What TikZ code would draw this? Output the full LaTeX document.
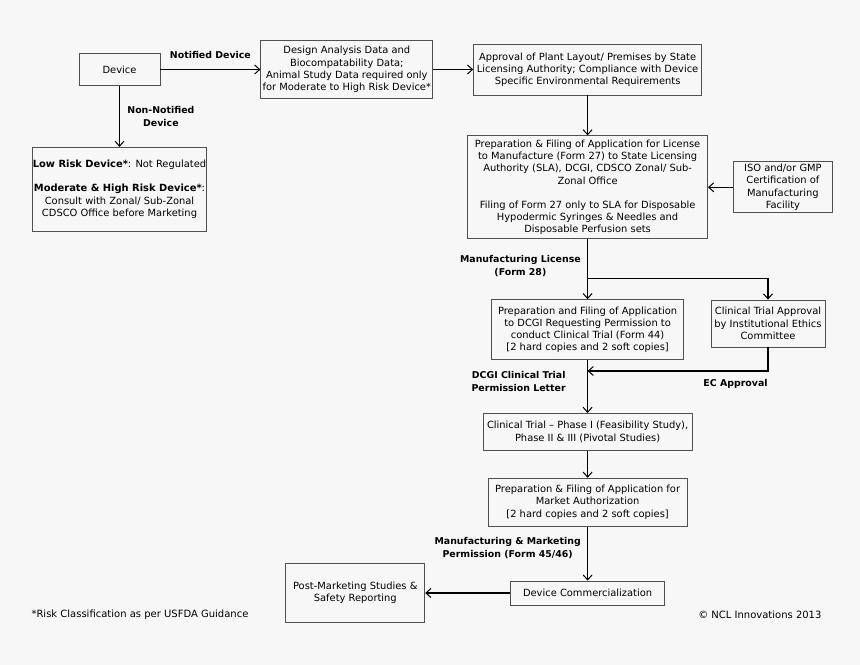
\documentclass[tikz,border=0pt]{standalone}
\usepackage{fontspec}
\setmainfont{DejaVu Sans}
\usetikzlibrary{arrows.meta,positioning,calc}
\definecolor{pagebg}{HTML}{F7F7F7}
\definecolor{boxline}{HTML}{505050}
\tikzset{
    >={Straight Barb[length=5pt,width=9pt,line width=1pt]},
    every node/.style={font=\fontsize{9.9}{12.2}\selectfont},
    stepbox/.style={draw=boxline,line width=0.8pt,align=center,inner sep=1pt},
    flow/.style={->,line width=1.1pt},
    edge label/.style={font=\bfseries\fontsize{9.4}{13}\selectfont,align=center},
    note/.style={font=\fontsize{10}{12}\selectfont}
}

\begin{document}
\begin{tikzpicture}[x=1pt,y=-1pt]
    \fill[pagebg] (0,0) rectangle (860,665);
    \useasboundingbox (0,0) rectangle (860,665);

    \node[stepbox, minimum width=81pt, minimum height=32pt] (device) at (119.5,69.5) {Device};
    \node[stepbox, minimum width=172pt, minimum height=58pt] (design) [right = 100pt of device]
        {Design Analysis Data and\\Biocompatability Data;\\Animal Study Data required only\\for Moderate to High Risk Device*};
    \node[stepbox, inner xsep=0pt, minimum width=172pt, minimum height=84pt] (lowrisk) [below = 61pt of device]
        {\textbf{Low Risk Device*}: Not Regulated\\[12pt]\textbf{Moderate \& High Risk Device*}:\\Consult with Zonal/ Sub-Zonal\\CDSCO Office before Marketing};
    \node[stepbox, minimum width=228pt, minimum height=51pt] (approval) [right = 40pt of design]
        {Approval of Plant Layout/ Premises by State\\Licensing Authority; Compliance with Device\\Specific Environmental Requirements};
    \node[stepbox, minimum width=240pt, minimum height=103pt] (prepsla) [below = 40pt of approval]
        {Preparation \& Filing of Application for License\\to Manufacture (Form 27) to State Licensing\\Authority (SLA), DCGI, CDSCO Zonal/ Sub-\\Zonal Office\\[12pt]Filing of Form 27 only to SLA for Disposable\\Hypodermic Syringes \& Needles and\\Disposable Perfusion sets};
    \node[stepbox, minimum width=99pt, minimum height=51pt] (iso) [right = 25pt of prepsla]
        {ISO and/or GMP\\Certification of\\Manufacturing\\Facility};
    \node[stepbox, minimum width=192pt, minimum height=60pt] (prepdcgi) [below = 60pt of prepsla]
        {Preparation and Filing of Application\\to DCGI Requesting Permission to\\conduct Clinical Trial (Form 44)\\{[}2 hard copies and 2 soft copies{]}};
    \node[stepbox, minimum width=114pt, minimum height=47pt] (ethics) at (768,323.5)
        {Clinical Trial Approval\\by Institutional Ethics\\Committee};
    \node[stepbox, minimum width=209pt, minimum height=37pt] (phase) [below = 53pt of prepdcgi]
        {Clinical Trial -- Phase I (Feasibility Study),\\Phase II \& III (Pivotal Studies)};
    \node[stepbox, minimum width=199pt, minimum height=48pt] (market) [below = 27pt of phase]
        {Preparation \& Filing of Application for\\Market Authorization\\{[}2 hard copies and 2 soft copies{]}};
    \node[stepbox, minimum width=154pt, minimum height=24pt] (commerc) [below = 54pt of market]
        {Device Commercialization};
    \node[stepbox, minimum width=139pt, minimum height=59pt] (postmkt) [left = 85pt of commerc]
        {Post-Marketing Studies \&\\Safety Reporting};

    \node[note, anchor=west] (footnote) at (28,615) {*Risk Classification as per USFDA Guidance};
    \node[note, anchor=east] (credit) at (825,615) {\char"00A9\ NCL Innovations 2013};

    \coordinate (split) at ($(prepsla.south)+(0,39)$);
    \coordinate (join) at ($(prepdcgi.south)+(0,11)$);

    \draw[flow] (device) -- node[edge label, above=7pt] {Notified Device} (design);
    \draw[flow] (device) -- node[edge label, right=4pt] {Non-Notified\\Device} (lowrisk);
    \draw[flow] (design) -- (approval);
    \draw[flow] (approval) -- (prepsla);
    \draw[flow] (iso) -- (prepsla);
    \draw[flow] (prepsla) -- node[edge label, left=3pt, pos=0.45] {Manufacturing License\\(Form 28)} (prepdcgi);
    \draw[flow] (split) -| (ethics);
    \draw[flow] (ethics) |- node[edge label, below=4pt, pos=0.59] {EC Approval} (join);
    \draw[flow] (prepdcgi) -- node[edge label, left=18pt, pos=0.4] {DCGI Clinical Trial\\Permission Letter} (phase);
    \draw[flow] (phase) -- (market);
    \draw[flow] (market) -- node[edge label, left=3pt, pos=0.4] {Manufacturing \& Marketing\\Permission (Form 45/46)} (commerc);
    \draw[flow] (commerc) -- (postmkt);
\end{tikzpicture}
\end{document}
